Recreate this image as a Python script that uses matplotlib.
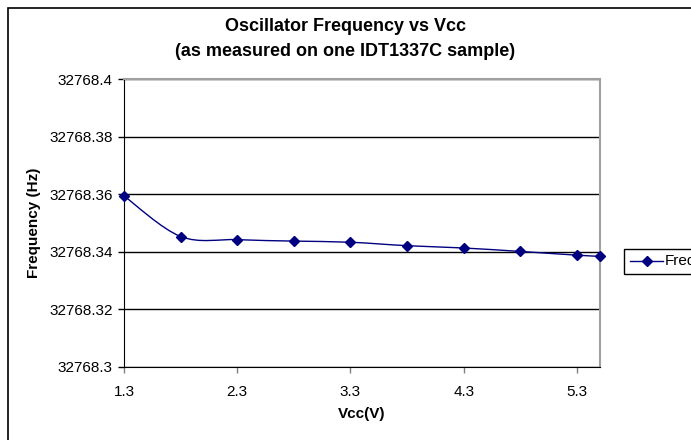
import matplotlib
matplotlib.use('Agg')
import matplotlib.pyplot as plt
from matplotlib.path import Path
from matplotlib.patches import PathPatch, Rectangle
from matplotlib.lines import Line2D
import numpy as np

plt.rcParams['font.family'] = ['Liberation Sans', 'DejaVu Sans']

# measured data
vcc = [1.3, 1.8, 2.3, 2.8, 3.3, 3.8, 4.3, 4.8, 5.3, 5.5]
freq = [32768.3594, 32768.3453, 32768.3442, 32768.3437, 32768.3433,
        32768.3421, 32768.3413, 32768.3401, 32768.3388, 32768.3384]
yticks = [32768.3, 32768.32, 32768.34, 32768.36, 32768.38, 32768.4]
ytick_labels = ['32768.3', '32768.32', '32768.34', '32768.36', '32768.38', '32768.4']
xticks = [1.3, 2.3, 3.3, 4.3, 5.3]

navy = '#000080'

fig = plt.figure(figsize=(6.91, 4.4), dpi=100)
ax = fig.add_axes([0.1795, 0.1666, 0.6882, 0.6532])

# excel style smoothed line (bezier through the points)
pts = np.column_stack([vcc, np.array(freq) - 32768.0])
verts = [tuple(pts[0])]
codes = [Path.MOVETO]
n = len(pts)
for i in range(n - 1):
    p0 = pts[max(i - 1, 0)]
    p1 = pts[i]
    p2 = pts[i + 1]
    p3 = pts[min(i + 2, n - 1)]
    c1 = p1 + (p2 - p0) / 6.0
    c2 = p2 - (p3 - p1) / 6.0
    verts += [tuple(c1), tuple(c2), tuple(p2)]
    codes += [Path.CURVE4] * 3
ax.add_patch(PathPatch(Path(verts, codes), facecolor='none', edgecolor=navy, lw=1.0, zorder=3))
ax.plot(vcc, pts[:, 1], linestyle='none', marker='D', color=navy, markersize=5.5, zorder=4, clip_on=False)

ax.set_xlim(1.3, 5.5)
ax.set_ylim(0.3, 0.4)
ax.set_xticks(xticks)
ax.set_xticklabels(['1.3', '2.3', '3.3', '4.3', '5.3'])
ax.set_yticks([v - 32768.0 for v in yticks])
ax.set_yticklabels(ytick_labels)
ax.tick_params(axis='both', direction='out', length=4, width=1, labelsize=11, colors='black', pad=4)
ax.tick_params(axis='x', pad=9, color='#808080')
ax.yaxis.grid(True, color='black', lw=1)
ax.set_axisbelow(True)

for s in ['top', 'right']:
    ax.spines[s].set_color('#a0a0a0')
    ax.spines[s].set_linewidth(1.5)
ax.spines['left'].set_color('black')
ax.spines['bottom'].set_color('black')

ax.set_xlabel('Vcc(V)', fontsize=11, fontweight='bold', labelpad=6)
ax.set_ylabel('Frequency (Hz)', fontsize=11, fontweight='bold', labelpad=6)

fig.text(0.5, 0.94, 'Oscillator Frequency vs Vcc', ha='center', va='center',
         fontsize=13, fontweight='bold')
fig.text(0.5, 0.884, '(as measured on one IDT1337C sample)', ha='center', va='center',
         fontsize=13, fontweight='bold')

# outer chart border
fig.patches.append(Rectangle((8 / 691, -0.1), 1.2, 1.1 - 8 / 440,
                             transform=fig.transFigure, fill=False,
                             edgecolor='black', lw=1.2))

# legend: box and text run past the right edge, as in the reference
fig.patches.append(Rectangle((624 / 691, 1 - 274 / 440), 0.3, 25 / 440,
                             transform=fig.transFigure, fill=False,
                             edgecolor='black', lw=1))
fig.lines.append(Line2D([630 / 691, 663 / 691], [1 - 261 / 440] * 2,
                        transform=fig.transFigure, color=navy, lw=1))
fig.lines.append(Line2D([647 / 691], [1 - 261 / 440], transform=fig.transFigure,
                        color=navy, marker='D', markersize=5.5, linestyle='none'))
fig.text(665 / 691, 1 - 261 / 440, 'Freq', ha='left', va='center', fontsize=11)

fig.savefig('out.png', dpi=100)
